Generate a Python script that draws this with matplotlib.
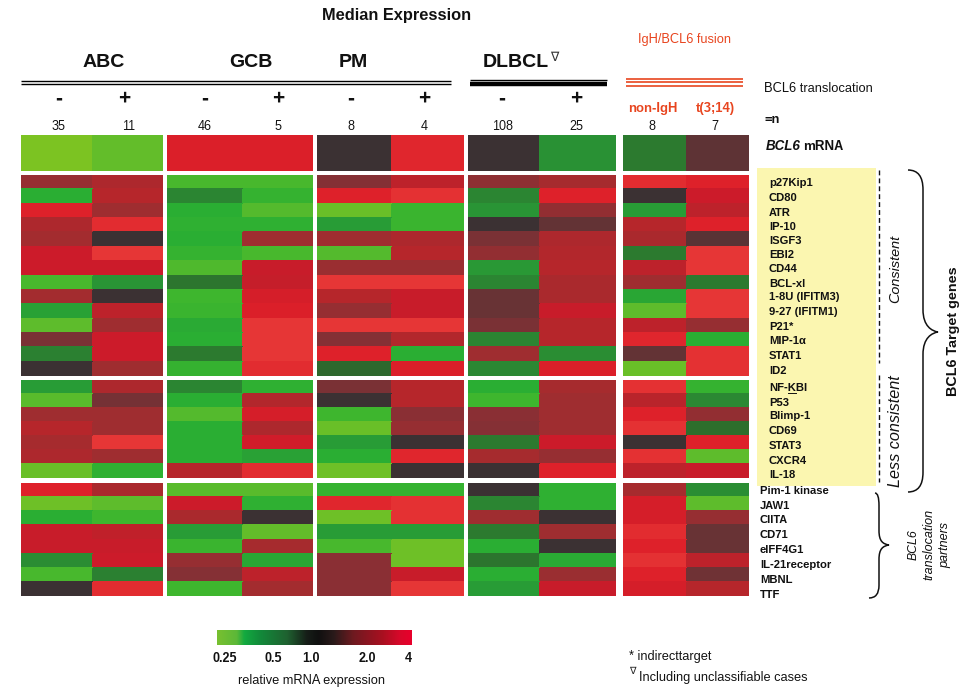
import numpy as np
import matplotlib
matplotlib.use("Agg")
import matplotlib.pyplot as plt
from matplotlib.colors import LinearSegmentedColormap
from matplotlib.path import Path
from matplotlib.patches import PathPatch, Rectangle

plt.rcParams['font.family'] = ['Liberation Sans', 'DejaVu Sans']
plt.rcParams['text.hinting'] = 'native'
plt.rcParams['text.hinting_factor'] = 8

# ---- data: log2 relative expression, columns as in `columns` ----
columns = ['ABC-', 'ABC+', 'GCB-', 'GCB+', 'PM-', 'PM+', 'DLBCL-', 'DLBCL+', 'non-IgH', 't(3;14)']
case_counts = ['35', '11', '46', '5', '8', '4', '108', '25', '8', '7']
translocation_signs = ['-', '+', '-', '+', '-', '+', '-', '+']
bcl6_mrna = [-2.0, -1.75, 1.75, 1.75, 0.0, 1.85, 0.0, -0.85, -0.6, 0.35]

consistent_genes = ['p27Kip1', 'CD80', 'ATR', 'IP-10', 'ISGF3', 'EBI2', 'CD44', 'BCL-xl',
                    '1-8U (IFITM3)', '9-27 (IFITM1)', 'P21*', 'MIP-1α', 'STAT1', 'ID2']
consistent_values = [
    [0.9, 1.2, -1.5, -1.5, 0.7, 1.4, 0.8, 1.1, 1.9, 1.8],
    [-1.2, 1.3, -0.7, -1.3, 1.8, 1.95, -0.7, 1.8, 0.0, 1.6],
    [1.8, 1.0, -1.2, -1.6, -1.8, -1.35, -0.9, 0.85, -1.0, 1.4],
    [1.2, 1.9, -1.25, -1.25, -1.0, -1.35, 0.0, 0.4, 1.3, 1.8],
    [1.05, 0.0, -1.2, 1.0, 1.0, 1.2, 0.6, 1.2, 1.15, 0.3],
    [1.6, 2.0, -1.3, -1.5, -1.6, 1.3, 0.85, 1.25, -0.6, 2.0],
    [1.6, 1.6, -1.55, 1.55, 0.95, 0.95, -0.95, 1.3, 1.4, 2.0],
    [-1.5, -0.9, -0.55, 1.5, 2.0, 2.0, -0.7, 1.15, 1.0, -0.6],
    [1.05, 0.0, -1.4, 1.7, 1.3, 1.55, 0.45, 1.15, -1.1, 2.0],
    [-1.05, 1.4, -1.35, 1.75, 0.9, 1.55, 0.45, 1.55, -1.7, 2.0],
    [-1.7, 1.0, -1.15, 2.0, 2.0, 2.0, 0.6, 1.3, 1.4, 0.9],
    [0.6, 1.6, -1.2, 2.0, 0.7, 1.25, -0.7, 1.3, 1.85, -1.2],
    [-0.65, 1.6, -0.6, 2.0, 1.8, -1.2, 1.0, -0.8, 0.4, 1.95],
    [0.0, 1.0, -1.3, 1.9, -0.45, 1.75, -0.75, 1.75, -1.8, 1.95],
]

less_genes = ['NF-KBI', 'P53', 'Blimp-1', 'CD69', 'STAT3', 'CXCR4', 'IL-18']
less_values = [
    [-1.0, 1.2, -0.7, -1.25, 0.6, 1.3, -1.2, 1.1, 1.95, -1.3],
    [-1.65, 0.55, -1.2, 1.25, 0.0, 1.3, -1.4, 1.0, 1.35, -0.75],
    [1.0, 1.0, -1.6, 1.7, -1.4, 0.75, 0.75, 1.0, 1.8, 0.85],
    [1.3, 1.0, -1.2, 1.2, -1.8, 0.9, 0.7, 1.0, 1.95, -0.5],
    [1.1, 2.0, -1.2, 1.65, -1.0, 0.0, -0.6, 1.6, 0.0, 1.8],
    [1.2, 1.0, -1.2, -1.05, -1.2, 1.85, 1.1, 0.9, 1.95, -1.7],
    [-1.8, -1.25, 1.3, 1.9, -1.85, 0.0, 0.0, 1.8, 1.4, 1.55],
]

partner_genes = ['Pim-1 kinase', 'JAW1', 'CIITA', 'CD71', 'eIFF4G1', 'IL-21receptor', 'MBNL', 'TTF']
partner_values = [
    [1.8, 1.15, -1.65, -1.65, -1.3, -1.3, 0.0, -1.25, 1.1, -0.8],
    [-1.85, -1.7, 1.6, -1.25, 1.85, 1.95, -0.7, -1.25, 1.7, -1.7],
    [-1.2, -1.4, 1.15, 0.0, -1.85, 1.95, 1.0, 0.0, 1.7, 0.9],
    [1.55, 1.45, -1.0, -1.75, -1.0, -1.0, -0.6, 1.0, 1.9, 0.45],
    [1.55, 1.55, -1.35, 1.1, -1.5, -1.85, -1.2, 0.0, 1.8, 0.45],
    [-0.8, 1.6, 0.9, -1.1, 0.75, -1.85, -0.55, -1.15, 1.95, 1.4],
    [-1.5, -0.65, 0.7, 1.4, 0.75, 1.55, -1.2, 0.95, 1.8, 0.5],
    [0.0, 1.9, -1.4, 1.05, 0.75, 2.0, -1.0, 1.55, 1.7, 1.3],
]

scale_labels = ['0.25', '0.5', '1.0', '2.0', '4']

# ---- layout (pixels) ----
W, H = 974, 695
X_EDGES = [(21, 93, 163), (167, 243, 313), (317, 392, 464), (468, 540, 616), (623, 687, 749)]
ROW_BANDS = [(135, 171), (175, 376), (380, 478), (483, 596)]
COL_CENTERS = [59, 129, 205, 278, 351, 424, 503, 576, 652, 715]
SIGN_X = [59, 124, 205, 278, 351, 424, 502, 576]

heat_cmap = LinearSegmentedColormap.from_list('heat', [
    (0.000, '#7cc322'), (0.075, '#5ebc2c'), (0.150, '#3eb62e'), (0.200, '#2aae33'),
    (0.250, '#289c36'), (0.325, '#2b8532'), (0.375, '#2d6f2c'), (0.500, '#3a3133'),
    (0.600, '#633335'), (0.675, '#853035'), (0.750, '#9e2d30'), (0.825, '#b5262b'),
    (0.900, '#cb1b2a'), (0.950, '#de2029'), (1.000, '#e63636')])
bar_cmap = LinearSegmentedColormap.from_list('bar', [
    (0.00, '#78c030'), (0.10, '#5cb838'), (0.14, '#12aa40'), (0.22, '#128a3a'),
    (0.36, '#1f6130'), (0.46, '#161e18'), (0.52, '#101010'), (0.60, '#2a1a1a'),
    (0.70, '#6e1a20'), (0.85, '#a81020'), (0.94, '#d8082a'), (1.00, '#e8002c')])

fig = plt.figure(figsize=(W / 100, H / 100), dpi=100, facecolor='white')

bg = fig.add_axes([0, 0, 1, 1])
bg.set_xlim(0, W)
bg.set_ylim(H, 0)
bg.axis('off')

bg.add_patch(Rectangle((757, 168), 119, 318, fc='#fbf6b0', ec='none', zorder=0))


def add_group(matrix, band):
    m = np.atleast_2d(np.array(matrix, dtype=float))
    for i, (x0, xm, x1) in enumerate(X_EDGES):
        ax = fig.add_axes([x0 / W, 1 - band[1] / H, (x1 - x0) / W, (band[1] - band[0]) / H])
        split = (xm - x0) / (x1 - x0)
        ax.pcolormesh([0, split, 1], np.arange(m.shape[0] + 1), m[:, 2 * i:2 * i + 2],
                      cmap=heat_cmap, vmin=-2, vmax=2, shading='flat', edgecolors='face',
                      linewidth=0.2)
        ax.set_xlim(0, 1)
        ax.set_ylim(m.shape[0], 0)
        ax.axis('off')


add_group([bcl6_mrna], ROW_BANDS[0])
add_group(consistent_values, ROW_BANDS[1])
add_group(less_values, ROW_BANDS[2])
add_group(partner_values, ROW_BANDS[3])


def T(x, y, s, size=9, weight='normal', style='normal', color='#111111', ha='center',
      va=None, rot=0, **kw):
    if va is None and rot == 0:
        # y is the middle of the capitals: align all labels on a common baseline
        y = y + 0.36 * size * 100 / 72
        va = 'baseline'
    return bg.text(x, y, s, fontsize=size, fontweight=weight, fontstyle=style, color=color,
                   ha=ha, va=va or 'center', rotation=rot, **kw)


ORANGE = '#e8451f'
T(396.5, 14, 'Median Expression', 11.8, 'bold')
T(104, 60, 'ABC', 14, 'bold')
T(251, 60, 'GCB', 14, 'bold')
T(353, 60, 'PM', 14, 'bold')
T(515.5, 60, 'DLBCL', 14, 'bold')
T(554, 57, '∇', 9, color='#333333', family='DejaVu Sans', va='center')
T(685, 38, 'IgH/BCL6 fusion', 9.2, color=ORANGE)
T(652.5, 107, 'non-IgH', 9.4, 'bold', color=ORANGE)
T(715, 107, 't(3;14)', 9.4, 'bold', color=ORANGE)

# header rules
bg.plot([21, 451], [81, 81], color='black', lw=1.0, solid_capstyle='butt')
bg.plot([21, 451], [84.3, 84.3], color='black', lw=1.0, solid_capstyle='butt')
bg.plot([470, 607], [80, 80], color='black', lw=1.0, solid_capstyle='butt')
bg.plot([470, 607], [84, 84], color='black', lw=3.2, solid_capstyle='butt')
for yy in (78.5, 82.3, 86.3):
    bg.plot([626, 743], [yy, yy], color=ORANGE, lw=1.2, solid_capstyle='butt')

for x, s in zip(SIGN_X, translocation_signs):
    T(x, 98.5, s, 15, 'bold', va='center')
for x, s in zip(COL_CENTERS, case_counts):
    T(x, 126, s, 9)

T(764, 87, 'BCL6 translocation', 9.3, ha='left')
T(764, 118, '=n', 9.3, 'bold', ha='left')
T(766, 145, 'BCL6', 9.6, 'bold', 'italic', ha='left')
T(803, 145, 'mRNA', 9.6, 'bold', ha='left')

# gene labels
consistent_y = [182, 197, 212, 226, 240, 254, 268, 283, 296, 311, 326, 340, 355, 370]
less_y = [387, 402, 415, 430, 445, 460, 474]
partner_y = [490, 505, 519, 534, 549, 564, 579, 594]
for y, g in zip(consistent_y + less_y, consistent_genes + less_genes):
    T(769, y, g, 8.1, 'bold', ha='left')
bg.plot([788, 796], [392.5, 392.5], color='#111111', lw=0.7)
for y, g in zip(partner_y, partner_genes):
    T(760, y, g, 8.1, 'bold', ha='left')

# dashed separators
bg.plot([879, 879], [170, 363], color='#111111', lw=1.0, dashes=(3.5, 2.2))
bg.plot([879, 879], [375, 482], color='#111111', lw=1.0, dashes=(3.5, 2.2))


def brace(x_end, x_spine, x_tip, y_top, y_mid, y_bot, end2=None, lw=1.1):
    e2 = x_end if end2 is None else end2
    r = 14 if (y_bot - y_top) > 200 else 9
    verts = [(x_end, y_top), (x_spine, y_top), (x_spine, y_top + r * 1.4),
             (x_spine, y_mid - r * 1.6),
             (x_spine, y_mid - r * 0.4), (x_tip - 6, y_mid - 1), (x_tip, y_mid),
             (x_tip - 6, y_mid + 1), (x_spine, y_mid + r * 0.4), (x_spine, y_mid + r * 1.6),
             (x_spine, y_bot - r * 1.4), (x_spine, y_bot), (e2, y_bot)]
    codes = [Path.MOVETO, Path.CURVE3, Path.CURVE3, Path.LINETO,
             Path.CURVE4, Path.CURVE4, Path.CURVE4,
             Path.CURVE4, Path.CURVE4, Path.CURVE4,
             Path.LINETO, Path.CURVE3, Path.CURVE3]
    bg.add_patch(PathPatch(Path(verts, codes), fc='none', ec='#111111', lw=lw))


brace(908, 923, 938, 170, 332, 492)
brace(875, 879, 889, 493, 545, 598, end2=869)

T(896, 269, 'Consistent', 10.4, style='italic', rot=90)
T(896, 431, 'Less consistent', 11.6, style='italic', rot=90)
T(953, 331, 'BCL6 Target genes', 10.4, 'bold', rot=90)
T(913, 545, 'BCL6', 8.8, style='italic', rot=90)
T(929, 544, 'translocation', 9, style='italic', rot=90)
T(945, 545, 'partners', 9, style='italic', rot=90)

# colour scale
cax = fig.add_axes([217 / W, 1 - 645 / H, 195 / W, 15 / H])
cax.imshow(np.linspace(-2, 2, 256)[None, :], cmap=bar_cmap, vmin=-2, vmax=2, aspect='auto')
cax.axis('off')
for x, s in zip([225, 273, 311, 367, 408], scale_labels):
    T(x, 657, s, 9, 'bold')
T(312, 679, 'relative mRNA expression', 9.2)

# footnotes
T(629, 655, '* indirecttarget', 9.2, ha='left')
T(632, 671, '∇', 7, color='#222222', family='DejaVu Sans', va='center')
T(639, 676, 'Including unclassifiable cases', 9.2, ha='left')

fig.savefig('out.png', dpi=100)
